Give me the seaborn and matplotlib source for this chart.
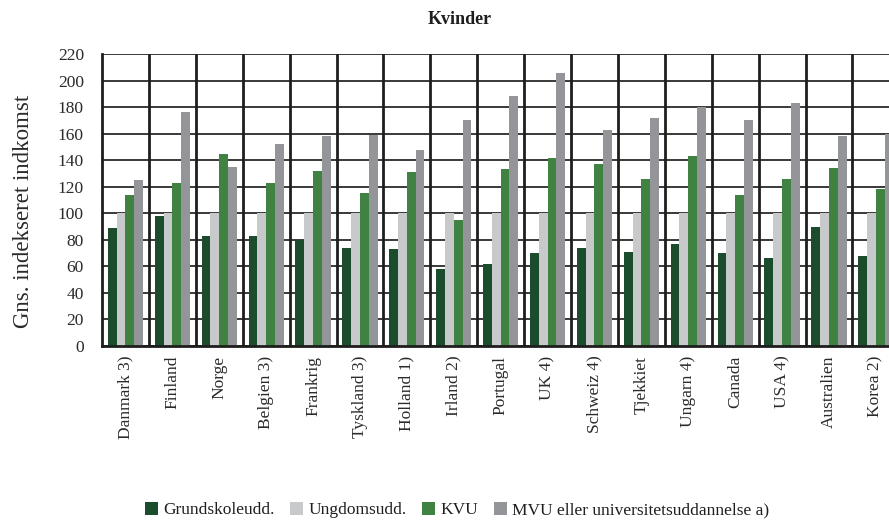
import matplotlib
matplotlib.use("Agg")
import matplotlib.pyplot as plt
import seaborn as sns
import pandas as pd
from matplotlib.patches import Patch

countries = ["Danmark 3)", "Finland", "Norge", "Belgien 3)", "Frankrig", "Tyskland 3)",
             "Holland 1)", "Irland 2)", "Portugal", "UK 4)", "Schweiz 4)", "Tjekkiet",
             "Ungarn 4)", "Canada", "USA 4)", "Australien", "Korea 2)"]
grundskole = [89, 98, 83, 83, 80, 74, 73, 58, 62, 70, 74, 71, 77, 70, 66, 90, 68]
ungdom = [100] * 17
kvu = [114, 123, 145, 123, 132, 115, 131, 95, 133, 142, 137, 126, 143, 114, 126, 134, 118]
mvu = [125, 176, 135, 152, 158, 159, 148, 170, 188, 206, 163, 172, 180, 170, 183, 158, 160]

series = ["Grundskoleudd.", "Ungdomsudd.", "KVU", "MVU eller universitetsuddannelse a)"]
colors = ["#1b4d2c", "#c8c9cb", "#3f8241", "#939598"]

rows = []
for name, vals in zip(series, [grundskole, ungdom, kvu, mvu]):
    for c, v in zip(countries, vals):
        rows.append({"land": c, "uddannelse": name, "indkomst": v})
df = pd.DataFrame(rows)

sns.set_theme(style="white")
plt.rcParams["font.family"] = ["Liberation Serif", "DejaVu Serif"]

fig = plt.figure(figsize=(8.89, 5.21), dpi=100)
# the plot area runs past the right edge, so the last group is cut off
ax = fig.add_axes([102 / 889, 1 - 346 / 521, 17 * 46.9 / 889, (346 - 54) / 521])

sns.barplot(data=df, x="land", y="indkomst", hue="uddannelse", hue_order=series,
            palette=colors, width=0.75, gap=0, saturation=1, ax=ax, legend=False,
            edgecolor="none", linewidth=0, errorbar=None)

ax.set_ylim(0, 220)
ax.set_xlim(-0.5, len(countries) - 0.5)
ax.set_yticks(range(0, 221, 20))
ax.yaxis.grid(True, color="#2a2a2a", linewidth=1.3)
ax.set_axisbelow(True)
for i in range(1, len(countries)):
    ax.axvline(i - 0.5, color="#1e1e1e", linewidth=2, zorder=3)

for side in ["top", "right"]:
    ax.spines[side].set_visible(False)
for side in ["left", "bottom"]:
    ax.spines[side].set_color("#1e1e1e")
    ax.spines[side].set_linewidth(2)
    ax.spines[side].set_zorder(4)

ax.set_xlabel("")
ax.set_ylabel("")
ax.tick_params(axis="y", labelsize=12.5, length=0, pad=13, labelcolor="#2a2a2a")
ax.tick_params(axis="x", labelsize=12.5, length=0, pad=7, labelcolor="#2a2a2a")
ax.set_xticks(range(len(countries)))
ax.set_xticklabels(countries, rotation=90, ha="center", va="top")

fig.text(24 / 889, 1 - 211 / 521, "Gns. indekseret indkomst", rotation=90,
         ha="center", va="center", fontsize=16.5, color="#2a2a2a")
fig.text(460 / 889, 1 - 19 / 521, "Kvinder", ha="center", va="center",
         fontsize=13, fontweight="bold", color="#1e1e1e")

handles = [Patch(facecolor=c, edgecolor="none") for c in colors]
fig.legend(handles, series, loc="center", bbox_to_anchor=(457 / 889, 1 - 510 / 521),
           ncol=4, frameon=False, fontsize=12.5, handlelength=0.75, handleheight=0.75,
           handletextpad=0.3, columnspacing=0.9, borderaxespad=0, labelcolor="#1e1e1e")

fig.savefig("out.png", dpi=100)
